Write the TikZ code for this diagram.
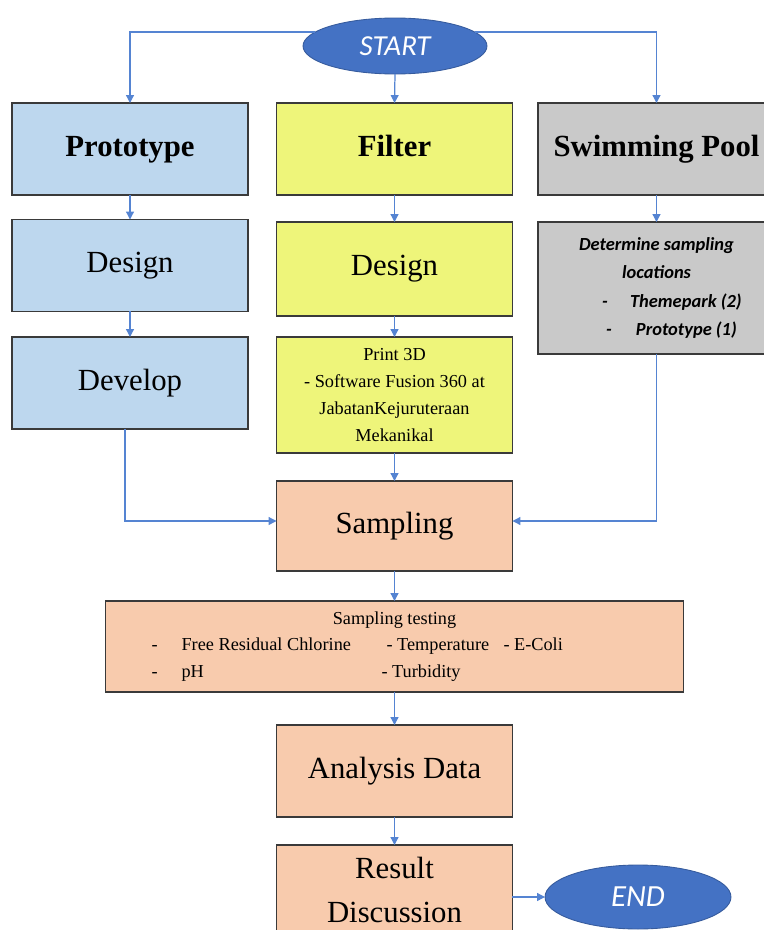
\documentclass[tikz,border=0pt]{standalone}
\usepackage{fontspec}
\setmainfont{Liberation Serif}
\newfontfamily\calibri{Carlito}
\usetikzlibrary{arrows.meta,shapes.geometric}

\definecolor{protoblue}{HTML}{BDD7EE}
\definecolor{filteryellow}{HTML}{EEF57A}
\definecolor{poolgray}{HTML}{C9C9C9}
\definecolor{samplepeach}{HTML}{F8CBAD}
\definecolor{termblue}{HTML}{4472C4}
\definecolor{linkblue}{HTML}{5584D2}
\definecolor{boxline}{HTML}{3A3A3A}

\begin{document}
\begin{tikzpicture}[x=0.02cm, y=-0.02cm, inner sep=0, outer sep=0,
  >={Triangle[length=4.5pt, width=4.5pt]},
  box/.style={rectangle, draw=boxline, line width=0.8pt, align=center,
    minimum width=4.72cm, minimum height=1.84cm},
  bigtext/.style={font=\fontsize{17.5}{25.5}\selectfont},
  headtext/.style={font=\bfseries\fontsize{17.5}{21}\selectfont, text height=12pt, text depth=3pt},
  smalltext/.style={font=\fontsize{10.4}{15.2}\selectfont},
  terminal/.style={ellipse, fill=termblue, draw=termblue!80!black, line width=0.5pt,
    text=white, font=\calibri\itshape\fontsize{16.5}{20}\selectfont},
  link/.style={->, draw=linkblue, line width=0.7pt}]

  \useasboundingbox (0,0) rectangle (764,930);

  \node[terminal, minimum width=3.68cm, minimum height=1.12cm] (start) at (395,46) {START};

  % top row
  \node[box, headtext, fill=protoblue] (proto) at (130,149) {Prototype};
  \node[box, headtext, fill=filteryellow] (filter) at (394.5,149) {Filter};
  \node[box, headtext, fill=poolgray, minimum width=4.74cm] (pool) at (656.5,149) {Swimming Pool};

  % prototype column
  \node[box, bigtext, fill=protoblue] (design1) at (130,265.5) {Design};
  \node[box, bigtext, fill=protoblue] (develop) at (130,383) {Develop};

  % filter column
  \node[box, bigtext, fill=filteryellow, minimum height=1.88cm] (design2) at (394.5,269) {Design};
  \node[box, smalltext, fill=filteryellow, minimum height=2.32cm] (print) at (394.5,395)
    {Print 3D\\- Software Fusion 360 at\\JabatanKejuruteraan\\Mekanikal};

  % pool column
  \node[box, fill=poolgray, minimum width=4.74cm, minimum height=2.64cm,
    font=\calibri\bfseries\itshape\fontsize{10.5}{16.3}\selectfont] (determine) at (656.5,288)
    {Determine sampling\\locations\\
     \makebox[2.18cm][l]{\makebox[0.56cm][l]{-}Themepark (2)}\\
     \makebox[2.02cm][l]{\makebox[0.6cm][l]{-}Prototype (1)}};

  \node[box, bigtext, fill=samplepeach, minimum height=1.8cm] (sampling) at (394.5,526) {Sampling};
  \node[box, smalltext, fill=samplepeach, minimum width=11.56cm, minimum height=1.82cm] (testing) at (394.5,646.5)
    {Sampling testing\\
     \makebox[9.72cm][l]{\makebox[4.7cm][l]{\makebox[0.6cm][l]{-}Free Residual Chlorine}\makebox[2.34cm][l]{- Temperature}- E-Coli}\\
     \makebox[9.72cm][l]{\makebox[4.6cm][l]{\makebox[0.6cm][l]{-}pH}- Turbidity}};
  \node[box, bigtext, fill=samplepeach] (analysis) at (394.5,771) {Analysis Data};
  \node[box, bigtext, fill=samplepeach, minimum height=1.8cm] (result) at (394.5,890) {Result\\Discussion};

  \node[terminal, minimum width=3.72cm, minimum height=1.28cm, font=\calibri\itshape\fontsize{17.5}{21}\selectfont] (end) at (638,897) {END};

  % connectors
  \draw[link] (start.170) -| (proto.north);
  \draw[link] (start.10) -| (pool.north);
  \draw[link] (start.south) -- (filter.north);
  \draw[link] (proto.south) -- (design1.north);
  \draw[link] (design1.south) -- (develop.north);
  \draw[link] (filter.south) -- (design2.north);
  \draw[link] (design2.south) -- (print.north);
  \draw[link] (pool.south) -- (determine.north);
  \draw[link] (print.south) -- (sampling.north);
  \draw[link] ([xshift=-0.1cm]develop.south) |- ([yshift=0.1cm]sampling.west);
  \draw[link] (determine.south) |- ([yshift=0.1cm]sampling.east);
  \draw[link] (sampling.south) -- (testing.north);
  \draw[link] (testing.south) -- (analysis.north);
  \draw[link] (analysis.south) -- (result.north);
  \draw[link] (result.east |- end.west) -- (end.west);
\end{tikzpicture}
\end{document}
